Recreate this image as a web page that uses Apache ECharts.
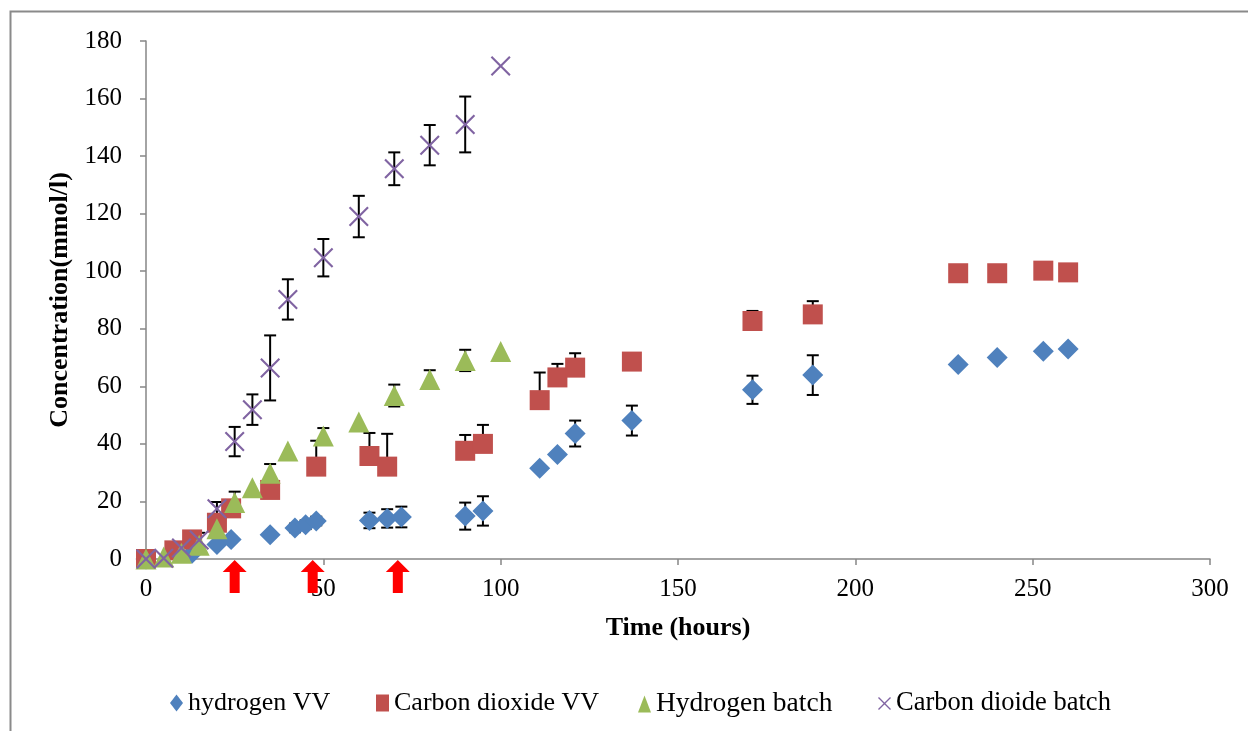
<!DOCTYPE html>
<html>
<head>
<meta charset="utf-8">
<style>
  html, body { margin: 0; padding: 0; background: #ffffff; }
  #chart { width: 1248px; height: 731px; }
</style>
<script src="https://cdn.jsdelivr.net/npm/echarts@6/dist/echarts.min.js"></script>
</head>
<body>
<div id="chart"></div>
<script>
// Time axis ticks
const xTicks = [0, 50, 100, 150, 200, 250, 300];
const yTicks = [0, 20, 40, 60, 80, 100, 120, 140, 160, 180];

// Hydrogen, VV mode (symmetric error bars)
const h2VV_time = [0, 13, 20, 24, 35, 42, 45, 48, 63, 68, 72, 90, 95, 111, 116, 121, 137, 171, 188, 229, 240, 253, 260];
const h2VV_conc = [0, 2, 5, 6.8, 8.4, 10.8, 11.9, 13.2, 13.4, 14.1, 14.6, 14.9, 16.7, 31.5, 36.3, 43.6, 48.1, 58.8, 63.9, 67.6, 70, 72.2, 73];
const h2VV_err  = [0, 0, 0, 1, 1, 1.5, 1.5, 1.5, 2.7, 3.2, 3.6, 4.7, 5.1, 0, 0, 4.5, 5.2, 4.9, 6.9, 0, 0, 0, 0];

// Carbon dioxide, VV mode (upper error bars only)
const co2VV_time = [0, 8, 13, 20, 24, 35, 48, 63, 68, 90, 95, 111, 116, 121, 137, 171, 188, 229, 240, 253, 260];
const co2VV_conc = [0, 3, 6.8, 12.6, 17.6, 24, 32.1, 35.8, 32.1, 37.6, 40, 55.2, 63.1, 66.5, 68.6, 82.7, 85, 99.3, 99.3, 100.2, 99.6];
const co2VV_errUp = [0, 0, 2.4, 0, 0, 0, 9, 8, 11.4, 5.5, 6.6, 9.6, 4.7, 5, 0, 3.5, 4.6, 0, 0, 0, 0];

// Batch runs share one sampling schedule
const batch_time = [0, 5, 10, 15, 20, 25, 30, 35, 40, 50, 60, 70, 80, 90, 100];
const h2Batch_conc = [0, 0.7, 2, 4.8, 10.5, 19.6, 24.8, 29.8, 37.5, 42.7, 47.6, 56.8, 62.4, 69, 72.1];
const h2Batch_err  = [0, 0, 0, 0, 0, 3.8, 0, 3.2, 0, 2.8, 0, 3.8, 3.2, 3.7, 0];
const co2Batch_conc = [0, 0.3, 3.8, 6.6, 17.5, 40.8, 51.9, 66.4, 90.2, 104.7, 119, 135.6, 143.8, 151, 171.3];
const co2Batch_err  = [0, 0, 0, 2.5, 2.3, 5.1, 5.3, 11.3, 7, 6.5, 7.2, 5.7, 7, 9.7, 0];

// Feeding events marked below the time axis
const feedTimes = [25, 47, 71];

const seriesNames = ['hydrogen VV', 'Carbon dioxide VV', 'Hydrogen batch', 'Carbon dioide batch'];
const seriesColors = ['#4F81BD', '#C0504D', '#9BBB59', '#8064A2'];

const FONT = '"Liberation Serif", "Times New Roman", serif';
const crossSymbol = 'path://M0,1.5L1.5,0L10,8.5L18.5,0L20,1.5L11.5,10L20,18.5L18.5,20L10,11.5L1.5,20L0,18.5L8.5,10Z';

function pairs(xs, ys) { return xs.map((x, i) => [x, ys[i]]); }
function errRows(xs, ys, lo, hi) {
  const out = [];
  xs.forEach((x, i) => { if (lo[i] > 0 || hi[i] > 0) out.push([x, ys[i], lo[i], hi[i]]); });
  return out;
}

const errData = []
  .concat(errRows(h2VV_time, h2VV_conc, h2VV_err, h2VV_err))
  .concat(errRows(co2VV_time, co2VV_conc, co2VV_time.map(() => 0), co2VV_errUp))
  .concat(errRows(batch_time, h2Batch_conc, h2Batch_err, h2Batch_err))
  .concat(errRows(batch_time, co2Batch_conc, co2Batch_err, co2Batch_err));

function renderErrorBar(params, api) {
  const x = api.value(0), y = api.value(1), lo = api.value(2), hi = api.value(3);
  const top = api.coord([x, y + hi]);
  const bot = api.coord([x, y - lo]);
  const half = 6;
  const style = { stroke: '#000000', lineWidth: 2 };
  const children = [{ type: 'line', shape: { x1: top[0], y1: top[1], x2: bot[0], y2: bot[1] }, style }];
  if (hi > 0) children.push({ type: 'line', shape: { x1: top[0] - half, y1: top[1], x2: top[0] + half, y2: top[1] }, style });
  if (lo > 0) children.push({ type: 'line', shape: { x1: bot[0] - half, y1: bot[1], x2: bot[0] + half, y2: bot[1] }, style });
  return { type: 'group', children };
}

function renderArrow(params, api) {
  const p = api.coord([api.value(0), 0]);
  const x = p[0], y = p[1] + 1;
  return {
    type: 'polygon',
    shape: { points: [[x, y], [x + 12, y + 12], [x + 5, y + 12], [x + 5, y + 33], [x - 5, y + 33], [x - 5, y + 12], [x - 12, y + 12]] },
    style: { fill: '#FF0000' }
  };
}

const axisLabelStyle = { fontFamily: FONT, fontSize: 25, color: '#000000' };
const axisNameStyle = { fontFamily: FONT, fontSize: 26, fontWeight: 'bold', color: '#000000' };

// One legend block per series so each entry sits at its own spot along the bottom row
const legendLefts = [165, 371, 633, 873];
const legendFontSizes = [26, 26, 27.5, 26.5];
const legends = seriesNames.map((name, i) => ({
  data: [name],
  left: legendLefts[i],
  top: 685,
  itemWidth: 13,
  itemHeight: 17,
  textStyle: { fontFamily: FONT, fontSize: legendFontSizes[i], color: '#000000' }
}));

const chart = echarts.init(document.getElementById('chart'), null, { renderer: 'canvas' });
chart.setOption({
  animation: false,
  backgroundColor: '#ffffff',
  graphic: [{
    type: 'rect',
    shape: { x: 10.5, y: 11.5, width: 1400, height: 900 },
    style: { fill: 'none', stroke: '#8a8a8a', lineWidth: 2 },
    silent: true
  }],
  grid: { left: 146, right: 38, top: 41, bottom: 172 },
  legend: legends,
  xAxis: {
    type: 'value',
    min: xTicks[0],
    max: xTicks[xTicks.length - 1],
    interval: xTicks[1] - xTicks[0],
    name: 'Time (hours)',
    nameLocation: 'middle',
    nameGap: 56,
    nameTextStyle: axisNameStyle,
    axisLine: { lineStyle: { color: '#868686', width: 1.5 } },
    axisTick: { show: true, inside: false, length: 6, lineStyle: { color: '#868686', width: 1.5 } },
    axisLabel: Object.assign({ margin: 18 }, axisLabelStyle),
    splitLine: { show: false }
  },
  yAxis: {
    type: 'value',
    min: yTicks[0],
    max: yTicks[yTicks.length - 1],
    interval: yTicks[1] - yTicks[0],
    name: 'Concentration(mmol/l)',
    nameLocation: 'middle',
    nameRotate: 90,
    nameGap: 71,
    nameTextStyle: axisNameStyle,
    axisLine: { show: true, lineStyle: { color: '#868686', width: 1.5 } },
    axisTick: { show: true, inside: false, length: 6, lineStyle: { color: '#868686', width: 1.5 } },
    axisLabel: Object.assign({ margin: 24 }, axisLabelStyle),
    splitLine: { show: false }
  },
  series: [
    {
      type: 'custom',
      renderItem: renderErrorBar,
      data: errData,
      z: 1,
      silent: true,
      encode: { x: 0, y: 1 }
    },
    {
      name: seriesNames[0], type: 'scatter', z: 2,
      symbol: 'diamond', symbolSize: 21,
      itemStyle: { color: seriesColors[0], opacity: 1 },
      data: pairs(h2VV_time, h2VV_conc)
    },
    {
      name: seriesNames[1], type: 'scatter', z: 2,
      symbol: 'rect', symbolSize: 20,
      itemStyle: { color: seriesColors[1], opacity: 1, borderRadius: 1 },
      data: pairs(co2VV_time, co2VV_conc)
    },
    {
      name: seriesNames[2], type: 'scatter', z: 2,
      symbol: 'triangle', symbolSize: 21,
      itemStyle: { color: seriesColors[2], opacity: 1 },
      data: pairs(batch_time, h2Batch_conc)
    },
    {
      name: seriesNames[3], type: 'scatter', z: 2,
      symbol: crossSymbol, symbolSize: 20,
      itemStyle: { color: seriesColors[3], opacity: 1 },
      data: pairs(batch_time, co2Batch_conc)
    },
    {
      type: 'custom',
      renderItem: renderArrow,
      data: feedTimes.map(t => [t]),
      clip: false,
      z: 3,
      silent: true,
      encode: { x: 0 }
    }
  ]
});
</script>
</body>
</html>
